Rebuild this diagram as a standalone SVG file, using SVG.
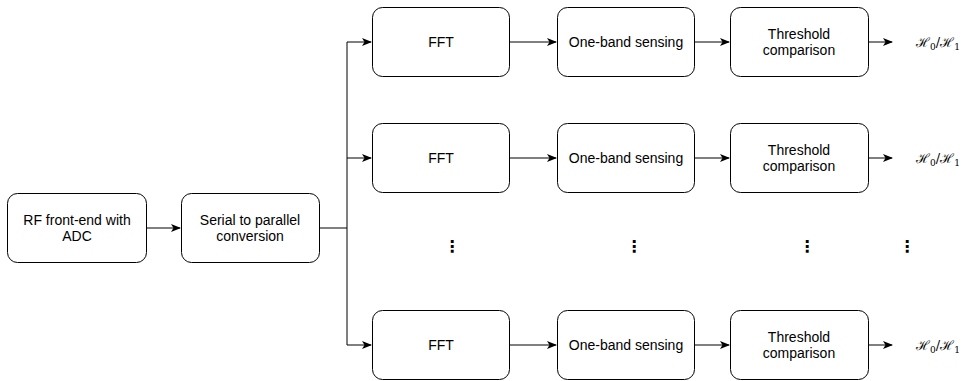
<svg xmlns="http://www.w3.org/2000/svg" width="964" height="381" viewBox="0 0 964 381">
<style>
.box{fill:#fff;stroke:#000;stroke-width:1}
.lbl{font-family:"Liberation Sans",Arial,sans-serif;font-size:14px;fill:#000;text-anchor:middle}
.edge{fill:none;stroke:#000;stroke-width:1}
.math{font-family:"DejaVu Serif","Liberation Serif",serif;font-size:13px;fill:#000}
.dots{font-family:"DejaVu Sans",sans-serif;font-size:16px;font-weight:bold;fill:#000;text-anchor:middle}
</style>
<defs>
<marker id="ah" markerWidth="10" markerHeight="8" refX="9" refY="4" orient="auto" markerUnits="userSpaceOnUse">
<path d="M0,0 L10,4 L0,8 L2.5,4 Z" fill="#000"/>
</marker>
</defs>
<rect width="964" height="381" fill="#fff"/>
<g id="connectors">
<path class="edge" d="M147,228 H180" marker-end="url(#ah)"/>
<path class="edge" d="M320,228 H347"/>
<path class="edge" d="M347,42 V345"/>
<path class="edge" d="M347,42 H371" marker-end="url(#ah)"/>
<path class="edge" d="M347,158 H371" marker-end="url(#ah)"/>
<path class="edge" d="M347,345 H371" marker-end="url(#ah)"/>
<path class="edge" d="M510,42 H556" marker-end="url(#ah)"/>
<path class="edge" d="M695,42 H729" marker-end="url(#ah)"/>
<path class="edge" d="M869,42 H892" marker-end="url(#ah)"/>
<path class="edge" d="M510,158 H556" marker-end="url(#ah)"/>
<path class="edge" d="M695,158 H729" marker-end="url(#ah)"/>
<path class="edge" d="M869,158 H892" marker-end="url(#ah)"/>
<path class="edge" d="M510,345 H556" marker-end="url(#ah)"/>
<path class="edge" d="M695,345 H729" marker-end="url(#ah)"/>
<path class="edge" d="M869,345 H892" marker-end="url(#ah)"/>
</g>
<g id="rf">
<rect class="box" x="7.5" y="193.5" width="139" height="69" rx="10"/>
<text class="lbl" x="77" y="225">RF front-end with</text>
<text class="lbl" x="77" y="241">ADC</text>
</g>
<g id="s2p">
<rect class="box" x="181.5" y="193.5" width="138" height="69" rx="10"/>
<text class="lbl" x="250" y="225">Serial to parallel</text>
<text class="lbl" x="250" y="241">conversion</text>
</g>
<g id="fft1"><rect class="box" x="372.5" y="7.5" width="137" height="69" rx="10"/><text class="lbl" x="441" y="47">FFT</text></g>
<g id="obs1"><rect class="box" x="557.5" y="7.5" width="137" height="69" rx="10"/><text class="lbl" x="626" y="47">One-band sensing</text></g>
<g id="thr1"><rect class="box" x="730.5" y="7.5" width="138" height="69" rx="10"/><text class="lbl" x="799" y="39">Threshold</text><text class="lbl" x="799" y="55">comparison</text></g>
<g id="out1"><text class="math" x="916" y="47">ℋ<tspan font-size="9" dy="3">0</tspan><tspan dy="-3">/ℋ</tspan><tspan font-size="9" dy="3">1</tspan></text></g>
<g id="fft2"><rect class="box" x="372.5" y="123.5" width="137" height="69" rx="10"/><text class="lbl" x="441" y="163">FFT</text></g>
<g id="obs2"><rect class="box" x="557.5" y="123.5" width="137" height="69" rx="10"/><text class="lbl" x="626" y="163">One-band sensing</text></g>
<g id="thr2"><rect class="box" x="730.5" y="123.5" width="138" height="69" rx="10"/><text class="lbl" x="799" y="155">Threshold</text><text class="lbl" x="799" y="171">comparison</text></g>
<g id="out2"><text class="math" x="916" y="163">ℋ<tspan font-size="9" dy="3">0</tspan><tspan dy="-3">/ℋ</tspan><tspan font-size="9" dy="3">1</tspan></text></g>
<g id="fft3"><rect class="box" x="372.5" y="310.5" width="137" height="69" rx="10"/><text class="lbl" x="441" y="350">FFT</text></g>
<g id="obs3"><rect class="box" x="557.5" y="310.5" width="137" height="69" rx="10"/><text class="lbl" x="626" y="350">One-band sensing</text></g>
<g id="thr3"><rect class="box" x="730.5" y="310.5" width="138" height="69" rx="10"/><text class="lbl" x="799" y="342">Threshold</text><text class="lbl" x="799" y="358">comparison</text></g>
<g id="out3"><text class="math" x="916" y="350">ℋ<tspan font-size="9" dy="3">0</tspan><tspan dy="-3">/ℋ</tspan><tspan font-size="9" dy="3">1</tspan></text></g>
<g id="ellipses">
<text class="dots" x="452" y="252">⋮</text>
<text class="dots" x="634" y="252">⋮</text>
<text class="dots" x="807" y="252">⋮</text>
<text class="dots" x="907" y="252" font-weight="normal">⋮</text>
</g>
</svg>
